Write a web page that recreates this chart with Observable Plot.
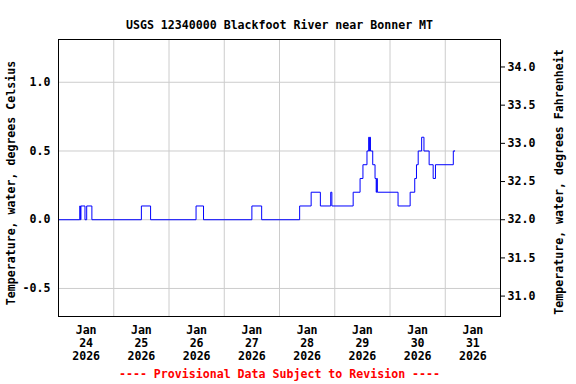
<!DOCTYPE html>
<html>
<head>
<meta charset="utf-8">
<script src="https://cdn.jsdelivr.net/npm/d3@7"></script>
<script src="https://cdn.jsdelivr.net/npm/@observablehq/plot@0.6"></script>
<style>
  html, body { margin: 0; padding: 0; background: #fff; }
</style>
</head>
<body>
<div id="chart"></div>
<script>
const title = "USGS 12340000 Blackfoot River near Bonner MT";
const footer = "---- Provisional Data Subject to Revision ----";
const leftLabel = "Temperature, water, degrees Celsius";
const rightLabel = "Temperature, water, degrees Fahrenheit";

// change points of the 15-minute series (station local time)
const times = [
  "2026-01-24T00:00", "2026-01-24T09:15", "2026-01-24T09:30", "2026-01-24T09:45",
  "2026-01-24T11:30", "2026-01-24T12:15", "2026-01-24T14:30",
  "2026-01-25T12:00", "2026-01-25T16:00",
  "2026-01-26T11:45", "2026-01-26T15:00",
  "2026-01-27T12:00", "2026-01-27T16:15",
  "2026-01-28T08:45", "2026-01-28T13:45", "2026-01-28T17:45", "2026-01-28T22:15", "2026-01-28T22:45",
  "2026-01-29T08:00", "2026-01-29T11:00", "2026-01-29T12:15", "2026-01-29T14:00",
  "2026-01-29T14:45", "2026-01-29T15:00", "2026-01-29T15:15", "2026-01-29T15:30",
  "2026-01-29T16:30", "2026-01-29T17:30", "2026-01-29T18:00", "2026-01-29T18:15", "2026-01-29T18:30",
  "2026-01-30T03:30", "2026-01-30T08:45", "2026-01-30T10:45", "2026-01-30T11:30",
  "2026-01-30T12:15", "2026-01-30T13:45", "2026-01-30T14:45", "2026-01-30T17:00",
  "2026-01-30T18:45", "2026-01-30T19:45",
  "2026-01-31T03:30", "2026-01-31T04:15"
];
const temps = [
  0.0, 0.1, 0.0, 0.1,
  0.0, 0.1, 0.0,
  0.1, 0.0,
  0.1, 0.0,
  0.1, 0.0,
  0.1, 0.2, 0.1, 0.2, 0.1,
  0.2, 0.3, 0.4, 0.5,
  0.6, 0.5, 0.6, 0.5,
  0.4, 0.3, 0.2, 0.3, 0.2,
  0.1, 0.2, 0.3, 0.4,
  0.5, 0.6, 0.5, 0.4,
  0.3, 0.4,
  0.5, 0.5
];

const tickDays = [24, 25, 26, 27, 28, 29, 30, 31];
const tickMonth = "Jan";
const tickYear = "2026";
const celsiusTicks = [-0.5, 0.0, 0.5, 1.0];
const fahrenheitTicks = [31.0, 31.5, 32.0, 32.5, 33.0, 33.5, 34.0];

const data = times.map((t, i) => ({date: new Date(t + ":00Z"), temp: temps[i]}));
const noonDates = tickDays.map(d => new Date(Date.UTC(2026, 0, d, 12)));
const midnights = tickDays.slice(1).map(d => new Date(Date.UTC(2026, 0, d, 0)));

const chart = Plot.plot({
  width: 576,
  height: 384,
  marginLeft: 58,
  marginRight: 76,
  marginTop: 39,
  marginBottom: 68,
  style: {fontFamily: "'DejaVu Sans Mono', monospace", fontSize: "11.6px", fontWeight: "bold", background: "#fff", color: "#000"},
  x: {type: "utc", domain: [new Date(Date.UTC(2026, 0, 24)), new Date(Date.UTC(2026, 1, 1))], axis: null},
  y: {domain: [-0.704, 1.311], axis: null},
  marks: [
    Plot.ruleX(midnights, {stroke: "#cccccc", strokeWidth: 1}),
    Plot.ruleY(celsiusTicks, {stroke: "#cccccc", strokeWidth: 1}),
    Plot.line(data, {x: "date", y: "temp", curve: "step-after", stroke: "#0000ff", strokeWidth: 1}),
    Plot.frame({stroke: "#000", strokeWidth: 1}),
    Plot.axisX(noonDates, {
      anchor: "bottom", tickSize: 0, tickPadding: 8, lineHeight: 1.13,
      tickFormat: d => `${tickMonth}\n${d.getUTCDate()}\n${tickYear}`, label: null
    }),
    Plot.axisY({anchor: "left", ticks: celsiusTicks, tickSize: 0, tickPadding: 8, tickFormat: d => d.toFixed(1), label: null}),
    Plot.axisY({anchor: "right", ticks: fahrenheitTicks.map(f => (f - 32) * 5 / 9), tickSize: 4, tickPadding: 3,
      tickFormat: d => (d * 9 / 5 + 32).toFixed(1), label: null}),
    Plot.text([title], {frameAnchor: "top", dy: -19}),
    Plot.text([footer], {frameAnchor: "bottom", dy: 61, fill: "#ff0000"}),
    Plot.text([leftLabel], {frameAnchor: "left", textAnchor: "middle", rotate: -90, dx: -47, dy: 5}),
    Plot.text([rightLabel], {frameAnchor: "right", textAnchor: "middle", rotate: -90, dx: 59, dy: 4})
  ]
});
document.getElementById("chart").appendChild(chart);
</script>
</body>
</html>
